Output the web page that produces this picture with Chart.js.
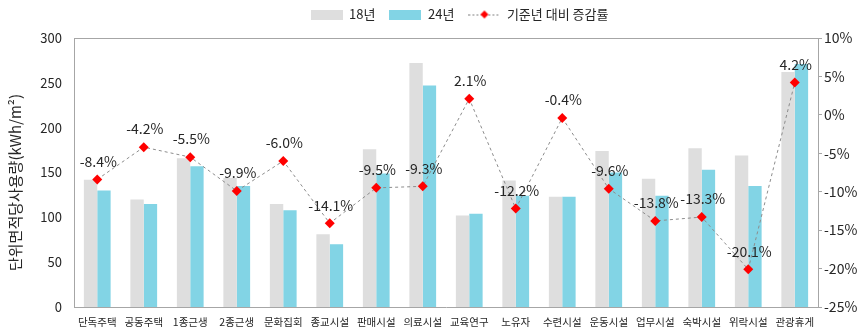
<!DOCTYPE html>
<html>
<head>
<meta charset="utf-8">
<script src="https://cdn.jsdelivr.net/npm/chart.js@4/dist/chart.umd.min.js"></script>
<style>
html,body{margin:0;padding:0;background:#fff;}
#wrap{width:865px;height:336px;}
</style>
</head>
<body>
<div id="wrap"><canvas id="c" width="865" height="336"></canvas></div>
<script>
const categories = ['단독주택','공동주택','1종근생','2종근생','문화집회','종교시설','판매시설','의료시설','교육연구','노유자','수련시설','운동시설','업무시설','숙박시설','위락시설','관광휴게'];
const values18 = [142, 120, 166, 144, 115, 81, 176, 272, 102, 141, 123, 174, 143, 177, 169, 262];
const values24 = [130, 115, 157, 135, 108, 70, 149, 247, 104, 124, 123, 150, 124, 153, 135, 271];
const changeRate = [-8.4, -4.2, -5.5, -9.9, -6.0, -14.1, -9.5, -9.3, 2.1, -12.2, -0.4, -9.6, -13.8, -13.3, -20.1, 4.2];
const leftTicks = [0, 300, 50];
const rightTicks = [-25, 10, 5];

const FONT = "'Noto Sans CJK KR', 'Noto Sans', sans-serif";
const GRAY = '#dedede';
const BLUE = '#82d4e5';
const AXIS = '#a6a6a6';
const TEXT = '#262626';

function boxIcon(color){
  const c = document.createElement('canvas');
  c.width = 32; c.height = 10;
  const g = c.getContext('2d');
  g.fillStyle = color; g.fillRect(0,0,32,10);
  return c;
}
function lineIcon(){
  const c = document.createElement('canvas');
  c.width = 32; c.height = 10;
  const g = c.getContext('2d');
  g.strokeStyle = '#808080'; g.lineWidth = 1; g.setLineDash([2,2]);
  g.beginPath(); g.moveTo(0,5.5); g.lineTo(32,5.5); g.stroke();
  g.fillStyle = '#ff0000';
  g.beginPath(); g.moveTo(16,1); g.lineTo(20,5); g.lineTo(16,9); g.lineTo(12,5); g.closePath(); g.fill();
  return c;
}
const icons = [boxIcon(GRAY), boxIcon(BLUE), lineIcon()];

const labelPlugin = {
  id: 'lineLabels',
  afterDatasetsDraw(chart){
    const ctx = chart.ctx;
    const meta = chart.getDatasetMeta(2);
    ctx.save();
    ctx.font = '14px ' + FONT;
    ctx.fillStyle = TEXT;
    ctx.textAlign = 'center';
    ctx.textBaseline = 'middle';
    meta.data.forEach((pt, i) => {
      ctx.fillText(changeRate[i].toFixed(1) + '%', pt.x + 1, pt.y - 18);
    });
    ctx.restore();
  }
};
const borderPlugin = {
  id: 'topBorder',
  beforeDatasetsDraw(chart){
    const a = chart.chartArea, ctx = chart.ctx;
    ctx.save();
    ctx.strokeStyle = AXIS; ctx.lineWidth = 1;
    ctx.beginPath(); ctx.moveTo(a.left, a.top + 0.5); ctx.lineTo(a.right, a.top + 0.5); ctx.stroke();
    ctx.restore();
  }
};
const legendFit = {
  id: 'legendFit',
  beforeInit(chart){
    const lg = chart.legend;
    const origFit = lg.fit;
    lg.fit = function(){ origFit.call(this); this.height += 7; };
    const origDraw = lg.draw;
    lg.draw = function(){
      const ctx = this.ctx;
      ctx.save(); ctx.translate(27, 0); origDraw.apply(this, arguments); ctx.restore();
    };
  },
  afterLayout(chart){
    const sc = chart.scales.y;
    if (!sc._titlePatched) {
      const origTitle = sc.drawTitle;
      sc.drawTitle = function(){
        const ctx = this.ctx;
        ctx.save(); ctx.translate(0, 10); origTitle.apply(this, arguments); ctx.restore();
      };
      sc._titlePatched = true;
    }
  }
};

new Chart(document.getElementById('c'), {
  data: {
    labels: categories,
    datasets: [
      { type: 'bar', label: '18년', data: values18, backgroundColor: GRAY, yAxisID: 'y', order: 1,
        barPercentage: 1.0, categoryPercentage: 0.575 },
      { type: 'bar', label: '24년', data: values24, backgroundColor: BLUE, yAxisID: 'y', order: 1,
        barPercentage: 1.0, categoryPercentage: 0.575 },
      { type: 'line', label: '기준년 대비 증감률', data: changeRate, yAxisID: 'y1', order: 0,
        borderColor: '#8c8c8c', borderWidth: 1, borderDash: [3,3], fill: false, tension: 0,
        pointStyle: 'rectRot', pointRadius: 5, pointHoverRadius: 5,
        pointBackgroundColor: '#ff0000', pointBorderColor: '#ff0000', pointBorderWidth: 0 }
    ]
  },
  options: {
    responsive: false,
    animation: false,
    devicePixelRatio: 1,
    layout: { padding: { top: -6, left: 0, right: 0, bottom: 0 } },
    plugins: {
      tooltip: { enabled: false },
      legend: {
        position: 'top',
        labels: {
          usePointStyle: true,
          pointStyleWidth: 32,
          padding: 14,
          color: TEXT,
          font: { size: 13, family: FONT },
          generateLabels(chart){
            return chart.data.datasets.map((ds, i) => ({
              text: ds.label, datasetIndex: i, pointStyle: icons[i],
              fillStyle: 'transparent', strokeStyle: 'transparent', lineWidth: 0,
              fontColor: TEXT, hidden: false
            }));
          }
        }
      }
    },
    scales: {
      x: {
        grid: { display: false, drawTicks: false },
        border: { display: true, color: AXIS },
        ticks: { color: TEXT, font: { size: 10.5, family: FONT }, padding: 9, autoSkip: false, maxRotation: 0 },
        afterFit(s){ s.height = 29; }
      },
      y: {
        position: 'left',
        min: leftTicks[0], max: leftTicks[1],
        grid: { display: false, drawTicks: false },
        border: { display: true, color: AXIS },
        ticks: { stepSize: leftTicks[2], color: TEXT, font: { size: 13, family: FONT }, padding: 12 },
        title: { display: true, text: '단위면적당사용량(kWh/m²)', color: TEXT, font: { size: 15, family: FONT }, padding: { top: 6, bottom: 0 } },
        afterFit(s){ s.width = 74; }
      },
      y1: {
        position: 'right',
        min: rightTicks[0], max: rightTicks[1],
        grid: { display: true, drawOnChartArea: false, drawTicks: true, tickLength: 4, color: AXIS },
        border: { display: true, color: AXIS },
        ticks: { stepSize: rightTicks[2], color: TEXT, font: { size: 14, family: FONT }, padding: 2,
          callback: v => v + '%' },
        afterFit(s){ s.width = 47; }
      }
    }
  },
  plugins: [labelPlugin, borderPlugin, legendFit]
});
</script>
</body>
</html>
